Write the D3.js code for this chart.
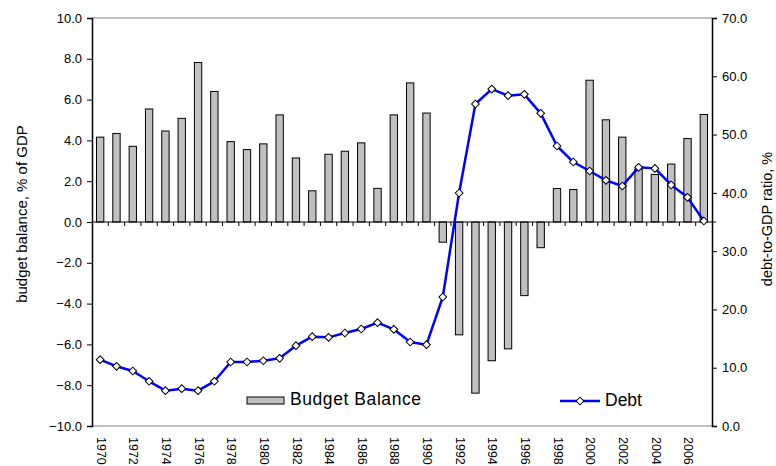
<!DOCTYPE html>
<html>
<head>
<meta charset="utf-8">
<script src="https://cdn.jsdelivr.net/npm/d3@7"></script>
<style>
  html, body { margin: 0; padding: 0; background: #fff; }
  svg { display: block; font-family: "Liberation Sans", Arial, sans-serif; }
</style>
</head>
<body>
<svg id="chart" width="776" height="466"></svg>
<script>
const years = [1970,1971,1972,1973,1974,1975,1976,1977,1978,1979,
               1980,1981,1982,1983,1984,1985,1986,1987,1988,1989,
               1990,1991,1992,1993,1994,1995,1996,1997,1998,1999,
               2000,2001,2002,2003,2004,2005,2006,2007];
const budgetBalance = [4.16,4.34,3.71,5.54,4.46,5.08,7.82,6.40,3.94,3.55,
                       3.83,5.25,3.14,1.53,3.32,3.47,3.88,1.65,5.25,6.82,
                       5.34,-0.99,-5.53,-8.39,-6.80,-6.22,-3.61,-1.26,1.64,1.59,
                       6.95,5.01,4.16,2.60,2.33,2.84,4.09,5.27];
const debt = [11.38,10.24,9.44,7.67,6.06,6.40,6.06,7.67,10.98,10.98,
              11.20,11.61,13.78,15.33,15.21,15.95,16.64,17.73,16.58,14.41,
              13.95,22.13,39.97,55.24,57.81,56.67,56.90,53.64,48.04,45.29,
              43.75,42.15,41.17,44.38,44.20,41.35,39.23,35.17];
const leftTicks = [-10,-8,-6,-4,-2,0,2,4,6,8,10];
const rightTicks = [0,10,20,30,40,50,60,70];
const xLabelYears = years.filter(y => y % 2 === 0);
const seriesNames = ["Budget Balance", "Debt"];
const leftTitle = "budget balance, % of GDP";
const rightTitle = "debt-to-GDP ratio, %";

const L = 92, R = 712, T = 18, B = 426;
const svg = d3.select("#chart");
const fmt = d3.format(".1f");

const xSlot = d3.scaleBand().domain(years).range([L, R]).padding(0);
const x = d3.scaleBand().domain(years).range([L, R]).paddingInner(0.55).paddingOuter(0.275);
const yL = d3.scaleLinear().domain([-10, 10]).range([B, T]);
const yR = d3.scaleLinear().domain([0, 70]).range([B, T]);

// plot area border top/bottom (gray)
svg.append("line").attr("x1", L).attr("x2", R).attr("y1", T).attr("y2", T)
  .attr("stroke", "#808080").attr("stroke-width", 1);
svg.append("line").attr("x1", L).attr("x2", R).attr("y1", B).attr("y2", B)
  .attr("stroke", "#808080").attr("stroke-width", 1);

// bars
svg.append("g").selectAll("rect").data(years).join("rect")
  .attr("x", (d) => x(d))
  .attr("width", x.bandwidth())
  .attr("y", (d, i) => yL(Math.max(0, budgetBalance[i])))
  .attr("height", (d, i) => Math.abs(yL(budgetBalance[i]) - yL(0)))
  .attr("fill", "#c0c0c0").attr("stroke", "#000").attr("stroke-width", 1);

// zero axis with ticks at category boundaries
const zeroY = yL(0);
svg.append("line").attr("x1", L).attr("x2", R + 4).attr("y1", zeroY).attr("y2", zeroY)
  .attr("stroke", "#000").attr("stroke-width", 1);
svg.append("g").selectAll("line").data(years.slice(1)).join("line")
  .attr("x1", d => xSlot(d)).attr("x2", d => xSlot(d))
  .attr("y1", zeroY).attr("y2", zeroY + 4)
  .attr("stroke", "#000").attr("stroke-width", 1);

// left axis
const gL = svg.append("g").attr("transform", `translate(${L},0)`)
  .call(d3.axisLeft(yL).tickValues(leftTicks).tickFormat(fmt).tickSize(5).tickPadding(5));
gL.select(".domain").attr("stroke", "#000").attr("stroke-width", 1.5);
gL.selectAll(".tick line").attr("stroke", "#000");
gL.selectAll("text").attr("font-size", 13).attr("fill", "#000")
  .attr("font-family", "Liberation Sans, Arial, sans-serif");

// right axis
const gR = svg.append("g").attr("transform", `translate(${R},0)`)
  .call(d3.axisRight(yR).tickValues(rightTicks).tickFormat(fmt).tickSize(5).tickPadding(5));
gR.select(".domain").attr("stroke", "#000").attr("stroke-width", 1.5);
gR.selectAll(".tick line").attr("stroke", "#000");
gR.selectAll("text").attr("font-size", 13).attr("fill", "#000")
  .attr("font-family", "Liberation Sans, Arial, sans-serif");

// x labels
svg.append("g").selectAll("text").data(xLabelYears).join("text")
  .attr("transform", d => `translate(${xSlot(d) + xSlot.bandwidth() / 2 + 1},${B + 11}) rotate(90)`)
  .attr("dy", "0.35em")
  .attr("text-anchor", "start")
  .attr("font-size", 12.5)
  .text(d => d);

// debt line
const cx = (d) => xSlot(d) + xSlot.bandwidth() / 2;
const line = d3.line().x((d, i) => cx(years[i])).y(d => yR(d));
svg.append("path").datum(debt).attr("d", line)
  .attr("fill", "none").attr("stroke", "#0000ff").attr("stroke-width", 2.5)
  .attr("stroke-linejoin", "round");
svg.append("g").selectAll("path").data(debt).join("path")
  .attr("d", d3.symbol().type(d3.symbolSquare).size(30))
  .attr("transform", (d, i) => `translate(${cx(years[i])},${yR(d)}) rotate(45)`)
  .attr("fill", "#fff").attr("stroke", "#000").attr("stroke-width", 1);

// axis titles
svg.append("text")
  .attr("transform", `translate(27,214) rotate(-90)`)
  .attr("text-anchor", "middle").attr("font-size", 15).text(leftTitle);
svg.append("text")
  .attr("transform", `translate(772,219) rotate(-90)`)
  .attr("text-anchor", "middle").attr("font-size", 14.5).text(rightTitle);

// legend
const lg = svg.append("g");
lg.append("rect").attr("x", 247).attr("y", 397).attr("width", 37).attr("height", 7)
  .attr("fill", "#c0c0c0").attr("stroke", "#000").attr("stroke-width", 1);
lg.append("text").attr("x", 290).attr("y", 405).attr("font-size", 17.5)
  .attr("textLength", 131).attr("lengthAdjust", "spacing").text(seriesNames[0]);
lg.append("line").attr("x1", 560).attr("x2", 600).attr("y1", 401).attr("y2", 401)
  .attr("stroke", "#0000ff").attr("stroke-width", 2.5);
lg.append("path").attr("transform", "translate(580,401) rotate(45)")
  .attr("d", d3.symbol().type(d3.symbolSquare).size(30))
  .attr("fill", "#fff").attr("stroke", "#000").attr("stroke-width", 1);
lg.append("text").attr("x", 605).attr("y", 406).attr("font-size", 17.5).text(seriesNames[1]);
</script>
</body>
</html>
